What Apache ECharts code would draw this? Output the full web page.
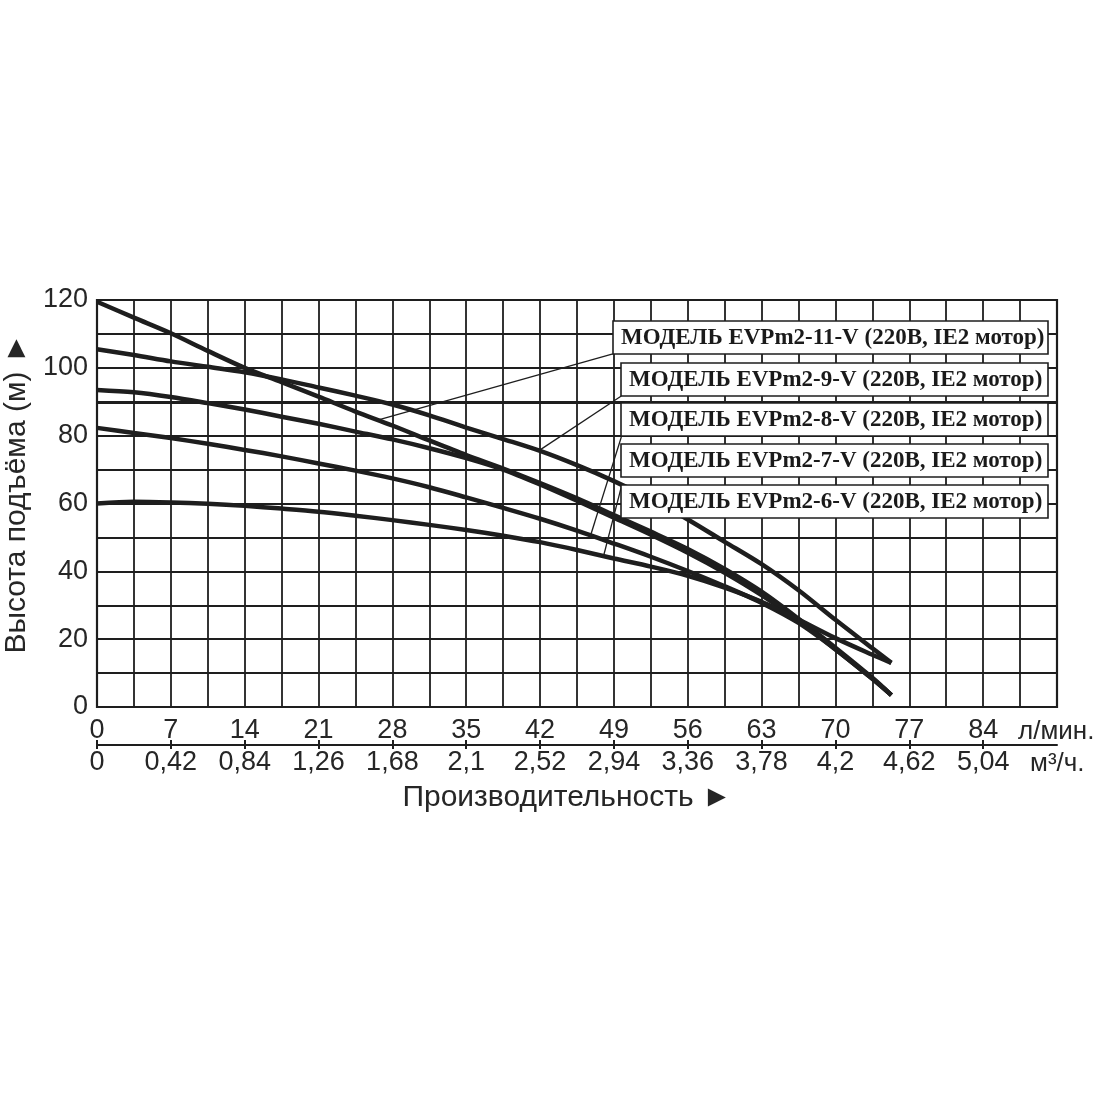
<!DOCTYPE html>
<html>
<head>
<meta charset="utf-8">
<script src="https://cdn.jsdelivr.net/npm/echarts@6.0.0/dist/echarts.min.js"></script>
<style>
  html, body { margin: 0; padding: 0; background: #fff; }
  #main { width: 1100px; height: 1100px; }
</style>
</head>
<body>
<div id="main"></div>
<script>
// напор (м) от подачи (л/мин)
var curve11 = [[0,119.5],[3.5,114.8],[7,110.2],[10.5,105],[14,100],[17.5,95.8],[21,91.5],[24.5,87.1],[28,83],[31.5,78.6],[35,74.3],[38.5,70.3],[42,66],[45.5,61.5],[49,56.6],[52.5,51.7],[56,46.6],[59.5,40.7],[63,34],[66.5,26],[70,17.5],[73.5,8.6],[75.3,3.5]];
var curve9 = [[0,105.5],[3.5,103.8],[7,101.9],[10.5,100.3],[14,98.7],[17.5,96.6],[21,94.2],[24.5,91.8],[28,89.2],[31.5,86],[35,82.4],[38.5,79],[42,75.5],[45.5,71.3],[49,66.6],[52.5,61.3],[56,55.3],[59.5,48.7],[63,42.1],[66.5,34.4],[70,25.7],[73.5,17.3],[75.3,13]];
var curve8 = [[0,93.5],[3.5,92.8],[7,91.4],[10.5,89.6],[14,87.7],[17.5,85.6],[21,83.5],[24.5,81.2],[28,78.9],[31.5,76.3],[35,73.4],[38.5,70],[42,65.6],[45.5,60.8],[49,55.8],[52.5,50.8],[56,45.5],[59.5,39.6],[63,33],[66.5,25.5],[70,17],[73.5,8.3],[75.3,3.5]];
var curve7 = [[0,82.3],[3.5,80.8],[7,79.3],[10.5,77.6],[14,75.8],[17.5,73.9],[21,71.8],[24.5,69.7],[28,67.4],[31.5,64.8],[35,61.8],[38.5,58.7],[42,55.5],[45.5,52],[49,48.2],[52.5,44.3],[56,40.1],[59.5,35.6],[63,30.7],[66.5,24.8],[70,17],[73.5,8.3],[75.3,3.5]];
var curve6 = [[0,60],[3.5,60.5],[7,60.3],[10.5,59.9],[14,59.3],[17.5,58.5],[21,57.6],[24.5,56.4],[28,55.1],[31.5,53.7],[35,52.2],[38.5,50.5],[42,48.6],[45.5,46.3],[49,43.8],[52.5,41.4],[56,38.7],[59.5,35.2],[63,31],[66.5,25.8],[70,20.3],[73.5,15.4],[75.3,13]];

var seriesNames = ['EVPm2-11-V', 'EVPm2-9-V', 'EVPm2-8-V', 'EVPm2-7-V', 'EVPm2-6-V'];
var modelLabels = [
  'МОДЕЛЬ EVPm2-11-V (220В, IE2 мотор)',
  'МОДЕЛЬ EVPm2-9-V (220В, IE2 мотор)',
  'МОДЕЛЬ EVPm2-8-V (220В, IE2 мотор)',
  'МОДЕЛЬ EVPm2-7-V (220В, IE2 мотор)',
  'МОДЕЛЬ EVPm2-6-V (220В, IE2 мотор)'
];
// выноски: от угла подписи к кривой, в координатах графика
var leaders = [
  [[48.9, 104.1], [26.6, 84.6]],
  [[49.7, 91.7], [42.0, 75.8]],
  [[49.7, 79.6], [46.8, 50.7]],
  [[49.7, 64.9], [48.0, 44.3]]
];

var yTicks = [0, 20, 40, 60, 80, 100, 120];
var flowTicks = [0, 7, 14, 21, 28, 35, 42, 49, 56, 63, 70, 77, 84];
var flowM3h = ['0', '0,42', '0,84', '1,26', '1,68', '2,1', '2,52', '2,94', '3,36', '3,78', '4,2', '4,62', '5,04'];

var ink = '#1e1e1e';
var txt = '#262626';
var sans = 'Liberation Sans, Arial, sans-serif';

function $each(arr, fn) { for (var i = 0; i < arr.length; i++) fn(i, arr[i]); }

var myChart = echarts.init(document.getElementById('main'));

var curves = [curve11, curve9, curve8, curve7, curve6];
var series = [];
$each(curves, function (i, c) {
  series.push({
    name: seriesNames[i],
    type: 'line',
    xAxisIndex: 0,
    data: c,
    smooth: 0.3,
    showSymbol: false,
    lineStyle: { color: ink, width: 4.5 },
    z: 5
  });
});
// чуть более жирная линия сетки на 90 м, как на оригинале
series[0].markLine = {
  silent: true, symbol: 'none', label: { show: false },
  lineStyle: { color: ink, width: 3, type: 'solid' },
  data: [{ yAxis: 90 }],
  z: 2
};
series.push({
  type: 'lines',
  coordinateSystem: 'cartesian2d',
  xAxisIndex: 0,
  data: leaders.map(function (l) { return { coords: l }; }),
  lineStyle: { color: ink, width: 1.3, opacity: 1 },
  z: 4
});

// подписи моделей
var boxTop = [321, 363, 403, 444, 485];
var graphics = [];
$each(modelLabels, function (i, t) {
  var x0 = i === 0 ? 613 : 621;
  graphics.push({
    type: 'rect',
    shape: { x: x0, y: boxTop[i], width: 1048 - x0, height: 33 },
    style: { fill: '#fff', stroke: ink, lineWidth: 1.6 },
    z: 10
  });
  graphics.push({
    type: 'text',
    x: x0 + 8,
    y: boxTop[i] + 17,
    style: {
      text: t,
      font: 'bold 23px "Liberation Serif", "Times New Roman", serif',
      fill: '#1a1a1a',
      verticalAlign: 'middle'
    },
    z: 11
  });
});
graphics.push({
  type: 'text', x: 1018, y: 732,
  style: { text: 'л/мин.', font: '26px ' + sans, fill: txt, verticalAlign: 'middle' }
});
graphics.push({
  type: 'text', x: 1030, y: 764,
  style: { text: 'м³/ч.', font: '26px ' + sans, fill: txt, verticalAlign: 'middle' }
});

var option = {
  animation: false,
  backgroundColor: '#fff',
  grid: {
    left: 97, right: 43, top: 300, bottom: 393,
    containLabel: false, outerBoundsMode: 'none',
    show: true, borderColor: ink, borderWidth: 2.2, backgroundColor: 'transparent'
  },
  xAxis: [
    {
      type: 'value', min: 0, max: 91, interval: 3.5,
      axisLine: { show: false }, axisTick: { show: false }, axisLabel: { show: false },
      splitLine: { show: true, lineStyle: { color: ink, width: 1.8 } }
    },
    {
      type: 'value', min: 0, max: 91, position: 'bottom', offset: 38,
      axisLine: { show: true, lineStyle: { color: ink, width: 2 } },
      axisTick: { show: true, inside: true, length: 5, customValues: flowTicks, lineStyle: { color: ink, width: 2 } },
      axisLabel: { inside: true, margin: 1, customValues: flowTicks, fontSize: 27, fontFamily: sans, color: txt },
      splitLine: { show: false }
    },
    {
      type: 'value', min: 0, max: 91, position: 'bottom', offset: 38,
      axisLine: { show: false },
      axisTick: { show: true, length: 4, customValues: flowTicks, lineStyle: { color: ink, width: 2 } },
      axisLabel: {
        margin: 4, customValues: flowTicks, fontSize: 27, fontFamily: sans, color: txt,
        formatter: function (v) { var k = flowTicks.indexOf(v); return k < 0 ? '' : flowM3h[k]; }
      },
      name: 'Производительность ►',
      nameLocation: 'middle', nameGap: 38,
      nameTextStyle: { fontSize: 30, fontFamily: sans, color: txt, padding: [0, 20, 0, 0] },
      splitLine: { show: false }
    }
  ],
  yAxis: {
    type: 'value', min: 0, max: 120, interval: 10,
    axisLine: { show: false }, axisTick: { show: false },
    axisLabel: { customValues: yTicks, margin: 9, fontSize: 27, fontFamily: sans, color: txt },
    splitLine: { show: true, lineStyle: { color: ink, width: 1.8 } },
    name: 'Высота подъёма (м) ►',
    nameLocation: 'middle', nameGap: 54,
    nameTextStyle: { fontSize: 30, fontFamily: sans, color: txt, padding: [0, 0, 0, 20] }
  },
  series: series,
  graphic: graphics
};
myChart.setOption(option);
</script>
</body>
</html>
